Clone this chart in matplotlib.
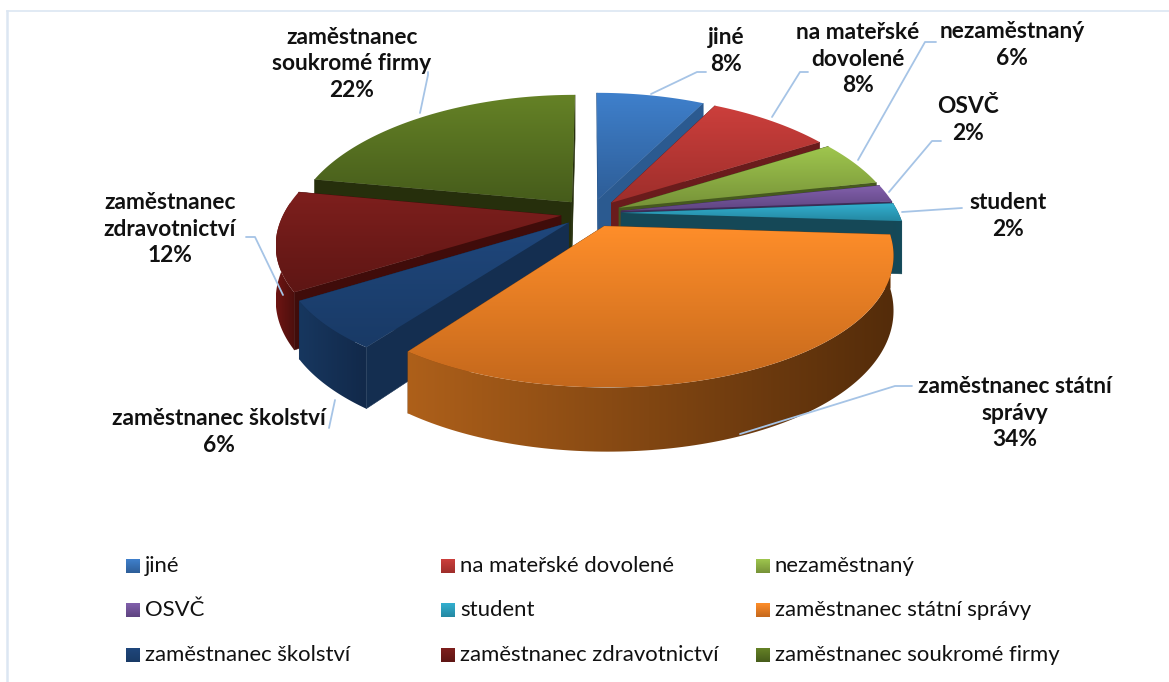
#!/usr/bin/env python
"""Exploded 3D pie of respondents by occupation, drawn by hand with a small projection."""

import numpy as np
import matplotlib
matplotlib.use('Agg')
import matplotlib.pyplot as plt
from matplotlib.patches import Polygon
from matplotlib.colors import to_rgb

plt.rcParams['font.family'] = ['Lato', 'DejaVu Sans']

categories = ['jiné', 'na mateřské dovolené', 'nezaměstnaný', 'OSVČ', 'student',
              'zaměstnanec státní správy', 'zaměstnanec školství',
              'zaměstnanec zdravotnictví', 'zaměstnanec soukromé firmy']
values = [7.6, 8.6, 5.5, 2.1, 2.2, 34.0, 6.0, 12.0, 22.0]
label_texts = ['jiné\n8%', 'na mateřské\ndovolené\n8%', 'nezaměstnaný\n6%', 'OSVČ\n2%',
               'student\n2%', 'zaměstnanec státní\nsprávy\n34%', 'zaměstnanec školství\n6%',
               'zaměstnanec\nzdravotnictví\n12%', 'zaměstnanec\nsoukromé firmy\n22%']

top_light = ['#3F80CC', '#CC3F3C', '#9FC64E', '#8260AC', '#33B0D0', '#FF8E2A', '#1F477C', '#7E1F1D', '#658226']
top_dark = ['#2E5E98', '#9E2E2B', '#769238', '#5E4480', '#2488A2', '#C4681C', '#193A66', '#5E1614', '#465C1B']
cut_col = ['#2B5A90', '#6A1C1C', '#46591F', '#3E2C58', '#154857', '#7A4212', '#142E50', '#400C0A', '#262F0C']
side_left = ['#2F5F98', '#8E2A28', '#6F8A34', '#5C4280', '#154857', '#AE601A', '#17375F', '#6E1513', '#3F5216']
side_right = ['#1E3F66', '#5A1A18', '#46591F', '#3A2A50', '#134A5A', '#542C0A', '#12294A', '#4C0F0D', '#262F0C']

# label anchor (centre x, centre y in px) and leader polyline, px from the top left corner
label_pos = [(726, 51), (858, 59), (1012, 45), (968, 120), (1008, 216),
             (1015, 413), (219, 432), (170, 229), (352, 64)]
leaders = [[(651, 94), (697, 72), (706, 72)],
           [(772, 117), (800, 72), (808, 72)],
           [(858, 160), (925, 42), (936, 42)],
           [(889, 192), (932, 141), (941, 141)],
           [(902, 212), (962, 208)],
           [(740, 434), (895, 386), (912, 386)],
           [(335, 400), (329, 428)],
           [(283, 295), (255, 237), (246, 237)],
           [(420, 113), (428, 75), (428, 72)]]

# projection of the pie: radius 1, top face at z=0
CX, CY = 591, 213
FX, FY, FZ = 277, 129, 232
KX, KY = 0.20, 0.17
HEIGHT = 0.225
EXPLODE = 0.11
WALL_LIMIT = 0.1  # outer wall faces the viewer only below this cos(angle)


def project(x, y, z=0.0):
    sx, sy = 1.0 / (1.0 + KX * y), 1.0 / (1.0 + KY * y)
    return CX + FX * x * sx, CY - (FY * y + FZ * z) * sy


def gradient_fill(ax, pts, c1, c2, zorder, horizontal=False, span=None):
    pts = np.array(pts)
    x0, x1 = pts[:, 0].min(), pts[:, 0].max()
    y0, y1 = pts[:, 1].min(), pts[:, 1].max()
    if span is not None:
        x0, x1 = min(x0, span[0]), max(x1, span[1])
    ramp = np.linspace(0, 1, 128)
    ramp = ramp[None, :, None] if horizontal else ramp[:, None, None]
    img = np.array(to_rgb(c1))[None, None, :] * (1 - ramp) + np.array(to_rgb(c2))[None, None, :] * ramp
    im = ax.imshow(img, extent=(x0, x1, y1, y0), aspect='auto', zorder=zorder, interpolation='bilinear')
    clip = Polygon(pts, closed=True, transform=ax.transData, facecolor='none', edgecolor='none')
    ax.add_patch(clip)
    im.set_clip_path(clip)


fig = plt.figure(figsize=(11.69, 6.82), dpi=100)
ax = fig.add_axes([0, 0, 1, 1])
ax.axis('off')

# frame of the chart area, only left and top show in the crop
ax.plot([7, 7], [682, 11], color='#DCE6F2', lw=1.8, zorder=1)
ax.plot([7, 1169], [11, 11], color='#DCE6F2', lw=1.2, zorder=1)

fractions = np.array(values) / sum(values)
ends = np.cumsum(fractions) * 2 * np.pi
starts = ends - fractions * 2 * np.pi
mids = (starts + ends) / 2

# far slices first
order = np.argsort(-np.cos(mids))
z = 2
for i in order:
    ox, oy = EXPLODE * np.sin(mids[i]), EXPLODE * np.cos(mids[i])
    t = np.linspace(starts[i], ends[i], 120)
    arc_x, arc_y = ox + np.sin(t), oy + np.cos(t)

    apex_top = project(ox, oy)
    apex_bot = project(ox, oy, -HEIGHT)
    for a in (starts[i], ends[i]):
        ex, ey = ox + np.sin(a), oy + np.cos(a)
        face = [apex_top, project(ex, ey), project(ex, ey, -HEIGHT), apex_bot]
        ax.add_patch(Polygon(face, closed=True, fc=cut_col[i], ec=cut_col[i], lw=0.4, zorder=z))
    z += 1

    # outer wall, only the part turned towards the viewer
    front = np.cos(t) < WALL_LIMIT
    if front.sum() > 1:
        upper = [project(a, b) for a, b in zip(arc_x[front], arc_y[front])]
        lower = [project(a, b, -HEIGHT) for a, b in zip(arc_x[front], arc_y[front])]
        wall = upper + lower[::-1]
        span = (405, 755) if i == 5 else None
        gradient_fill(ax, wall, side_left[i], side_right[i], z, horizontal=True, span=span)
    z += 1

    top = [apex_top] + [project(a, b) for a, b in zip(arc_x, arc_y)]
    gradient_fill(ax, top, top_light[i], top_dark[i], z)
    z += 1

for line, (lx, ly), text in zip(leaders, label_pos, label_texts):
    xs, ys = zip(*line)
    ax.plot(xs, ys, color='#A6C4E6', lw=1.3, zorder=z, solid_capstyle='round')
    ax.text(lx, ly, text, ha='center', va='center', fontsize=16.4, fontweight='bold',
            color='#111111', linespacing=1.32, zorder=z + 1)

# legend
leg_x = [126, 441, 756]
leg_y = [566, 610, 655]
for k, name in enumerate(categories):
    mx, my = leg_x[k % 3], leg_y[k // 3]
    sq = [(mx, my - 7), (mx + 14, my - 7), (mx + 14, my + 7), (mx, my + 7)]
    gradient_fill(ax, sq, top_light[k], top_dark[k], z)
    ax.text(mx + 19, my, name, ha='left', va='center', fontsize=15.9, color='#111111', zorder=z)

ax.set_xlim(0, 1169)
ax.set_ylim(682, 0)
fig.savefig('out.png', dpi=100, facecolor='white')
